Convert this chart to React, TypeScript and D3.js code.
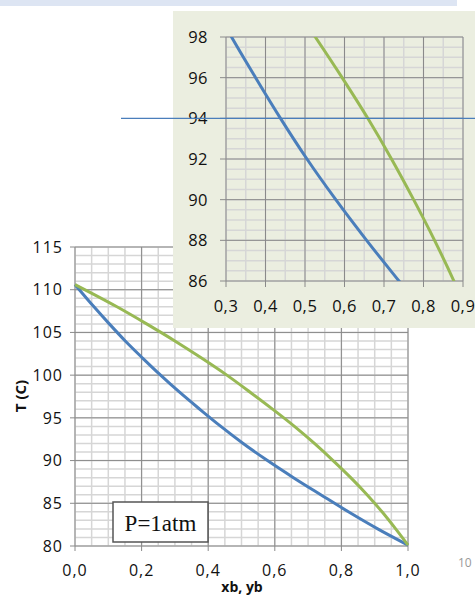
import React from 'react';
import * as d3 from 'd3';

// benzene-toluene Txy at 1 atm
const tempC = [110.6, 108, 106, 104, 102, 100, 98, 96, 94, 92, 90, 88, 86, 84, 82, 80.1];
const xb = [0, 0.057, 0.103, 0.151, 0.203, 0.257, 0.314, 0.375, 0.438, 0.505, 0.578, 0.656, 0.738, 0.821, 0.909, 1.0];
const yb = [0, 0.126, 0.215, 0.3, 0.38, 0.456, 0.526, 0.594, 0.659, 0.719, 0.775, 0.828, 0.877, 0.922, 0.963, 1.0];

const mainXTicks = [0, 0.2, 0.4, 0.6, 0.8, 1.0];
const mainYTicks = [80, 85, 90, 95, 100, 105, 110, 115];
const zoomXTicks = [0.3, 0.4, 0.5, 0.6, 0.7, 0.8, 0.9];
const zoomYTicks = [86, 88, 90, 92, 94, 96, 98];
const markTemp = 94;

const BLUE = '#4A7EBB';
const GREEN = '#98B954';
const MINOR = '#d6d6d6';
const MAJOR = '#8a8a8a';
const FONT = '"Open Sans", sans-serif';

const comma = (v: number) => d3.format('.1f')(v).replace('.', ',');

export default function App() {
  // main chart
  const x = d3.scaleLinear().domain([0, 1]).range([75, 408]);
  const y = d3.scaleLinear().domain([80, 115]).range([546, 247]);
  // zoomed inset
  const xi = d3.scaleLinear().domain([0.3, 0.9]).range([226, 463]);
  const yi = d3.scaleLinear().domain([86, 98]).range([281, 37]);

  const liqPts = tempC.map((t, i) => [xb[i], t] as [number, number]);
  const vapPts = tempC.map((t, i) => [yb[i], t] as [number, number]);

  const mainLine = d3.line<[number, number]>()
    .x((d) => x(d[0])).y((d) => y(d[1])).curve(d3.curveMonotoneX);
  const zoomLine = d3.line<[number, number]>()
    .x((d) => xi(d[0])).y((d) => yi(d[1])).curve(d3.curveMonotoneX);

  const mainMinorX = d3.range(0, 1.0001, 0.05);
  const mainMinorY = d3.range(80, 115.001, 1);
  const zoomMinorX = d3.range(0.3, 0.9001, 0.05);
  const zoomMinorY = d3.range(86, 98.001, 0.5);

  return (
    <svg width={475} height={595} style={{ position: 'absolute', left: 0, top: 0, background: '#fff' }}
      fontFamily={FONT}>
      <defs>
        <clipPath id="zoomClip">
          <rect x={xi(0.3)} y={yi(98)} width={xi(0.9) - xi(0.3)} height={yi(86) - yi(98)} />
        </clipPath>
      </defs>

      {/* slide header band */}
      <rect x={0} y={0} width={457} height={6} fill="#DDE5F3" />

      {/* ---- main chart ---- */}
      <g>
        {mainMinorX.map((v) => (
          <line key={'mx' + v} x1={x(v)} x2={x(v)} y1={y(80)} y2={y(115)} stroke={MINOR} strokeWidth={1.5} />
        ))}
        {mainMinorY.map((v) => (
          <line key={'my' + v} x1={x(0)} x2={x(1)} y1={y(v)} y2={y(v)} stroke={MINOR} strokeWidth={1.5} />
        ))}
        {mainXTicks.map((v) => (
          <line key={'MX' + v} x1={x(v)} x2={x(v)} y1={y(80) + 5} y2={y(115)} stroke={MAJOR} strokeWidth={1} />
        ))}
        {mainYTicks.map((v) => (
          <line key={'MY' + v} x1={x(0) - 5} x2={x(1)} y1={y(v)} y2={y(v)} stroke={MAJOR} strokeWidth={1} />
        ))}
        {mainYTicks.map((v) => (
          <text key={'ty' + v} x={x(0) - 12} y={y(v)} dy="0.36em" textAnchor="end" fontSize={16}
            letterSpacing={1} fill="#111">{v}</text>
        ))}
        {mainXTicks.map((v) => (
          <text key={'tx' + v} x={x(v)} y={576} textAnchor="middle" fontSize={16} letterSpacing={1}
            fill="#111">{comma(v)}</text>
        ))}
        <path d={mainLine(liqPts) || ''} fill="none" stroke={BLUE} strokeWidth={3} />
        <path d={mainLine(vapPts) || ''} fill="none" stroke={GREEN} strokeWidth={3} />

        <text x={242} y={592} textAnchor="middle" fontSize={14} fontWeight="bold" fill="#111">xb, yb</text>
        <text transform="translate(26,396) rotate(-90)" textAnchor="middle" fontSize={15} fontWeight="bold"
          fill="#111">T (C)</text>

        <rect x={113} y={502} width={95} height={40} fill="#fff" stroke="#555" strokeWidth={1.5} />
        <text x={160.5} y={531} textAnchor="middle" fontSize={23} fontFamily='"Liberation Serif", serif'
          fill="#111">P=1atm</text>
      </g>

      {/* ---- zoomed inset ---- */}
      <g>
        <rect x={173} y={11} width={302} height={317} fill="#EBEEE0" />
        {zoomMinorX.map((v) => (
          <line key={'zx' + v} x1={xi(v)} x2={xi(v)} y1={yi(86)} y2={yi(98)} stroke={MINOR} strokeWidth={1.5} />
        ))}
        {zoomMinorY.map((v) => (
          <line key={'zy' + v} x1={xi(0.3)} x2={xi(0.9)} y1={yi(v)} y2={yi(v)} stroke={MINOR} strokeWidth={1.5} />
        ))}
        {zoomXTicks.map((v) => (
          <line key={'ZX' + v} x1={xi(v)} x2={xi(v)} y1={yi(86) + 6} y2={yi(98)} stroke={MAJOR} strokeWidth={1} />
        ))}
        {zoomYTicks.map((v) => (
          <line key={'ZY' + v} x1={xi(0.3) - 6} x2={xi(0.9)} y1={yi(v)} y2={yi(v)} stroke={MAJOR} strokeWidth={1} />
        ))}
        {zoomYTicks.map((v) => (
          <text key={'zty' + v} x={208} y={yi(v)} dy="0.36em" textAnchor="end" fontSize={16.5}
            letterSpacing={0.5} fill="#111">{v}</text>
        ))}
        {zoomXTicks.map((v) => (
          <text key={'ztx' + v} x={xi(v)} y={312} textAnchor="middle" fontSize={16.5} letterSpacing={0.5}
            fill="#111">{comma(v)}</text>
        ))}
        <g clipPath="url(#zoomClip)">
          <path d={zoomLine(liqPts) || ''} fill="none" stroke={BLUE} strokeWidth={3} />
          <path d={zoomLine(vapPts) || ''} fill="none" stroke={GREEN} strokeWidth={3} />
        </g>
      </g>

      {/* reading line at 94 C */}
      <line x1={121} x2={475} y1={yi(markTemp)} y2={yi(markTemp)} stroke={BLUE} strokeWidth={1.2} />

      {/* page number peeking in at the edge */}
      <text x={458} y={567} fontSize={12} fill="#999">10</text>
    </svg>
  );
}
